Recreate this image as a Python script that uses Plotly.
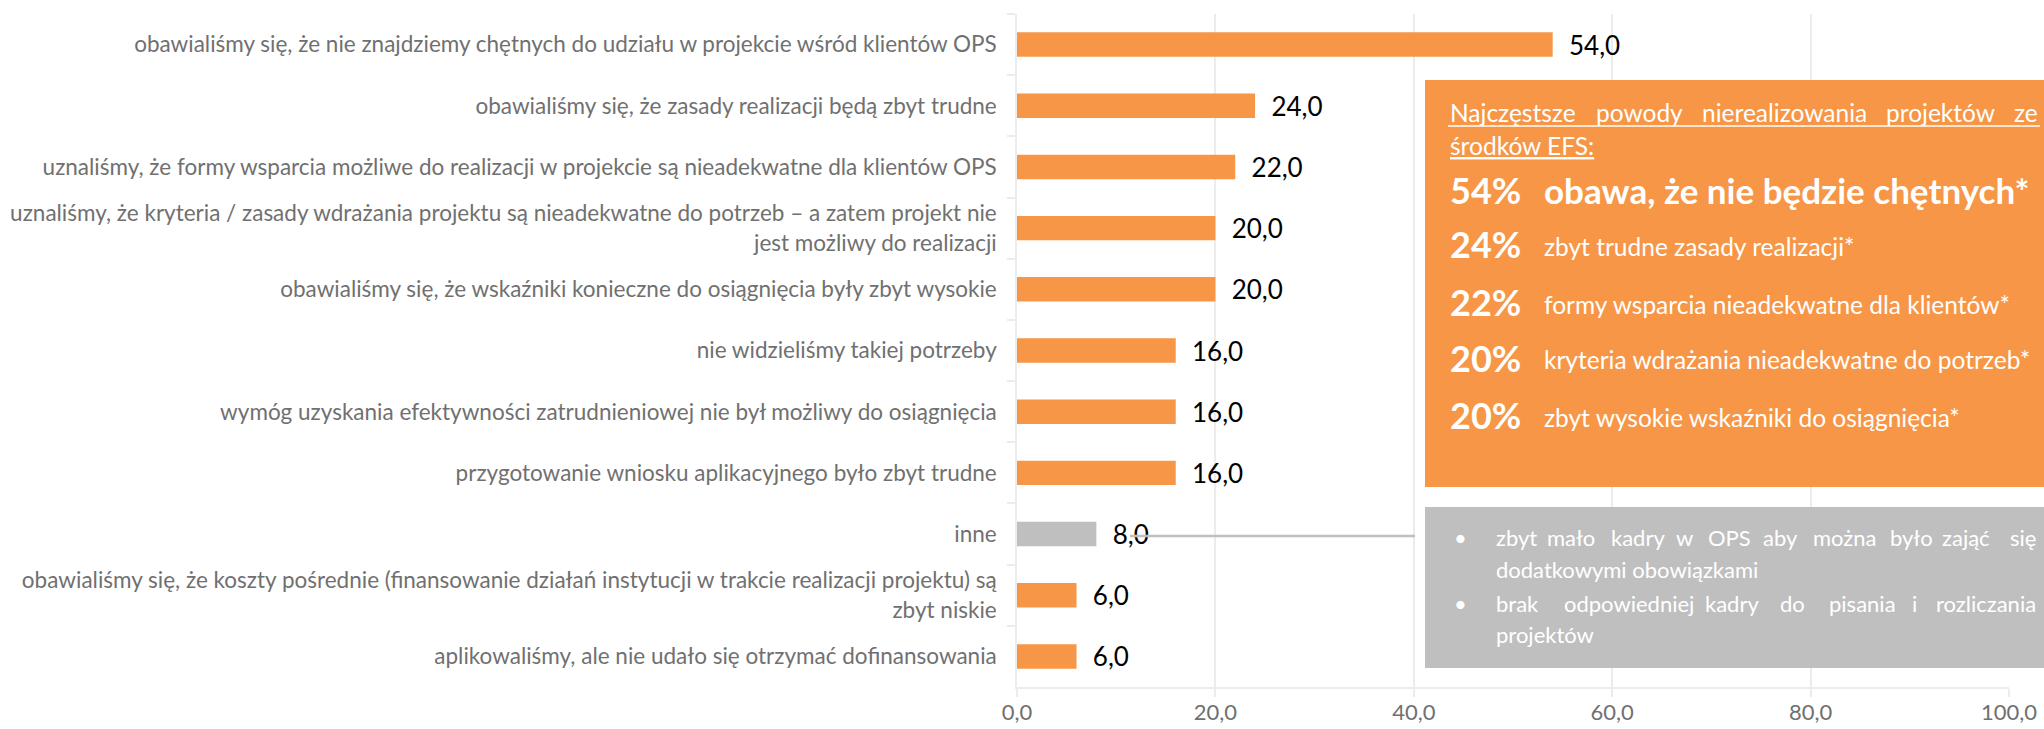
import plotly.graph_objects as go

categories = [
    "obawialiśmy się, że nie znajdziemy chętnych do udziału w projekcie wśród klientów OPS",
    "obawialiśmy się, że zasady realizacji będą zbyt trudne",
    "uznaliśmy, że formy wsparcia możliwe do realizacji w projekcie są nieadekwatne dla klientów OPS",
    "uznaliśmy, że kryteria / zasady wdrażania projektu są nieadekwatne do potrzeb – a zatem projekt nie<br>jest możliwy do realizacji",
    "obawialiśmy się, że wskaźniki konieczne do osiągnięcia były zbyt wysokie",
    "nie widzieliśmy takiej potrzeby",
    "wymóg uzyskania efektywności zatrudnieniowej nie był możliwy do osiągnięcia",
    "przygotowanie wniosku aplikacyjnego było zbyt trudne",
    "inne",
    "obawialiśmy się, że koszty pośrednie (finansowanie działań instytucji w trakcie realizacji projektu) są<br>zbyt niskie",
    "aplikowaliśmy, ale nie udało się otrzymać dofinansowania",
]
values = [54.0, 24.0, 22.0, 20.0, 20.0, 16.0, 16.0, 16.0, 8.0, 6.0, 6.0]
x_ticks = [0, 20, 40, 60, 80, 100]
x_tick_labels = ["0,0", "20,0", "40,0", "60,0", "80,0", "100,0"]

summary_title_words = ["Najczęstsze", "powody", "nierealizowania", "projektów", "ze"]
summary_title_line2 = "środków EFS:"
summary_pct = ["54%", "24%", "22%", "20%", "20%"]
summary_text = [
    "obawa, że nie będzie chętnych*",
    "zbyt trudne zasady realizacji*",
    "formy wsparcia nieadekwatne dla klientów*",
    "kryteria wdrażania nieadekwatne do potrzeb*",
    "zbyt wysokie wskaźniki do osiągnięcia*",
]
other_line1 = ["zbyt", "mało", "kadry", "w", "OPS", "aby", "można", "było", "zająć", "się"]
other_line2 = "dodatkowymi obowiązkami"
other_line3 = ["brak", "odpowiedniej", "kadry", "do", "pisania", "i", "rozliczania"]
other_line4 = "projektów"

ORANGE = "#F79646"
GREY = "#BFBFBF"
LABEL = "#707070"
GRID = "#ececec"
FONT = "Lato"

bar_colors = [GREY if c == "inne" else ORANGE for c in categories]

# layout geometry (pixels)
FW, FH = 2044, 729
L, R, T, B = 1017, 35, 14, 42
PW, PH = FW - L - R, FH - T - B


def PX(x):
    return (x - L) / PW


def PY(y):
    return (FH - B - y) / PH


fig = go.Figure()
fig.add_trace(go.Bar(
    x=values, y=categories, orientation="h",
    marker=dict(color=bar_colors, line=dict(width=0)),
    texttemplate="\u00a0\u00a0%{x:.1f}", textposition="outside",
    textfont=dict(family=FONT, size=26, color="#000000"),
    constraintext="none", cliponaxis=False,
    hoverinfo="skip",
))

shapes = []
annotations = []

# orange summary box
shapes.append(dict(type="rect", xref="paper", yref="paper", x0=PX(1425), x1=PX(2070),
                   y0=PY(487), y1=PY(80), fillcolor=ORANGE, line=dict(width=0), layer="above"))
# grey box
shapes.append(dict(type="rect", xref="paper", yref="paper", x0=PX(1425), x1=PX(2070),
                   y0=PY(668), y1=PY(507), fillcolor=GREY, line=dict(width=0), layer="above"))
# connector
shapes.append(dict(type="line", xref="paper", yref="paper", x0=PX(1130), x1=PX(1415),
                   y0=PY(536), y1=PY(536), line=dict(color=GREY, width=2.5), layer="above"))


def ann(text, x, y, size, anchor="left", color="white"):
    annotations.append(dict(text=text, x=PX(x), y=PY(y), xref="paper", yref="paper",
                            xanchor=anchor, yanchor="middle", showarrow=False,
                            font=dict(family=FONT, size=size, color=color)))


# title (justified line 1)
title_x = [1448, 1594, 1700, 1884, 2040]
for i, (w, xx) in enumerate(zip(summary_title_words, title_x)):
    ann(w, xx, 112, 24.5, anchor="right" if i == len(title_x) - 1 else "left")
shapes.append(dict(type="line", xref="paper", yref="paper", x0=PX(1448), x1=PX(2040),
                   y0=PY(126), y1=PY(126), line=dict(color="white", width=1.5), layer="above"))
ann("<u>" + summary_title_line2 + "</u>", 1448, 146, 24.5)

row_y = [190, 244, 302, 358, 415]
for i, (p, t, yy) in enumerate(zip(summary_pct, summary_text, row_y)):
    ann("<b>" + p + "</b>", 1448, yy, 36)
    if i == 0:
        ann("<b>" + t + "</b>", 1542, yy, 35)
    else:
        ann(t, 1542, yy + 2, 24.5)

# grey box text
GS = 22
l1_x = [1494, 1545, 1609, 1674, 1706, 1761, 1811, 1888, 1940, 2038]
for i, (w, xx) in enumerate(zip(other_line1, l1_x)):
    ann(w, xx, 537, GS, anchor="right" if i == len(l1_x) - 1 else "left")
ann(other_line2, 1494, 569, GS)
l3_x = [1494, 1562, 1703, 1778, 1827, 1910, 2038]
for i, (w, xx) in enumerate(zip(other_line3, l3_x)):
    ann(w, xx, 603, GS, anchor="right" if i == len(l3_x) - 1 else "left")
ann(other_line4, 1494, 634, GS)
for yy in (537, 603):
    ann("•", 1452, yy, 22)

fig.update_layout(
    width=FW, height=FH,
    margin=dict(l=L, r=R, t=T, b=B, pad=0, autoexpand=False),
    paper_bgcolor="white", plot_bgcolor="white",
    showlegend=False,
    bargap=0.6,
    separators=", ",
    shapes=shapes, annotations=annotations,
    font=dict(family=FONT, color=LABEL),
)
fig.update_xaxes(
    range=[0, 100], tickvals=x_ticks, ticktext=x_tick_labels,
    showgrid=True, gridcolor=GRID, gridwidth=1.5,
    showline=True, linecolor=GRID, linewidth=1.5,
    ticks="outside", ticklen=8, tickcolor=GRID, tickwidth=1.5,
    ticklabelstandoff=-3,
    tickfont=dict(family=FONT, size=22, color=LABEL),
    zeroline=False, fixedrange=True, automargin=False,
)
fig.update_yaxes(
    autorange="reversed", type="category", tickson="boundaries",
    showgrid=False, showline=True, linecolor=GRID, linewidth=1.5,
    ticks="outside", ticklen=8, tickcolor=GRID, tickwidth=1.5,
    ticklabelstandoff=14,
    tickfont=dict(family=FONT, size=22.5, color=LABEL),
    fixedrange=True, automargin=False,
)

fig.write_html(
    "out.html",
    config={"displayModeBar": False},
    post_script="document.body.style.margin='0px';document.body.style.overflow='hidden';",
)
